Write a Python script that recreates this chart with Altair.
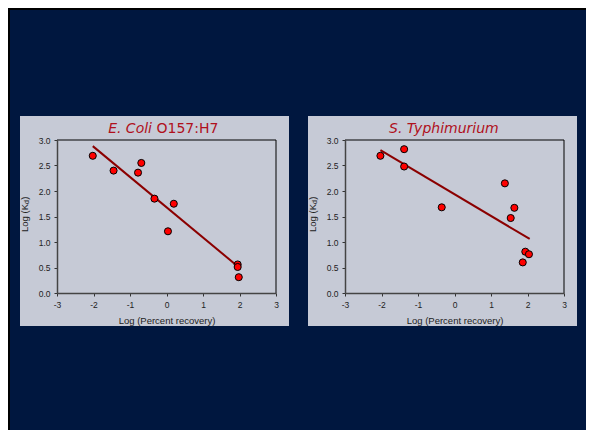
import altair as alt
import pandas as pd

# ---- data ----
ecoli_x = [-2.02, -1.45, -0.78, -0.69, -0.33, 0.20, 0.04, 1.95, 1.95, 1.98]
ecoli_y = [2.69, 2.40, 2.36, 2.55, 1.85, 1.75, 1.21, 0.56, 0.51, 0.31]
ecoli_fit_x = [-2.02, 1.94]
ecoli_fit_y = [2.88, 0.53]

typh_x = [-2.03, -1.38, -1.38, -0.35, 1.38, 1.64, 1.54, 1.94, 2.04, 1.87]
typh_y = [2.69, 2.82, 2.48, 1.68, 2.15, 1.67, 1.47, 0.81, 0.76, 0.60]
typh_fit_x = [-2.03, 2.06]
typh_fit_y = [2.80, 1.06]

x_ticks = [-3, -2, -1, 0, 1, 2, 3]
y_ticks = [0.0, 0.5, 1.0, 1.5, 2.0, 2.5, 3.0]

# ---- style ----
NAVY = "#00173f"
LIGHT = "#c6cad6"
RED_TITLE = "#b0101c"
LINE = "#8b0000"
W, H = 219, 153
AX_FONT = "Liberation Sans"
T_FONT = "DejaVu Sans"

one = pd.DataFrame({"k": [0]})


def panel(px, py, fx, fy, titles, frame=False):
    pts = pd.DataFrame({"x": px, "y": py})
    fit = pd.DataFrame({"x": fx, "y": fy})
    xs = alt.Scale(domain=[-3, 3], nice=False, zero=False)
    ys = alt.Scale(domain=[0, 3], nice=False, zero=False)
    xa = alt.Axis(values=x_ticks, labelExpr="'' + datum.value",
                  title="Log (Percent recovery)", zindex=1, labelOverlap=False,
                  labelFlush=False,
                  titleY=30.5, titleBaseline="alphabetic",
                  labelBaseline="alphabetic", labelPadding=11.5)
    ya = alt.Axis(values=y_ticks, format=".1f", title=None, zindex=1,
                  labelOverlap=False, labelFlush=False)
    X = alt.X("x:Q", scale=xs, axis=xa)
    Y = alt.Y("y:Q", scale=ys, axis=ya)

    layers = []
    if frame:
        # slide backdrop with a thin black edge at top and left
        layers.append(alt.Chart(one).mark_rect(color=NAVY).encode(
            x=alt.value(-49), x2=alt.value(529), y=alt.value(-132), y2=alt.value(290)))
        layers.append(alt.Chart(one).mark_rect(color="#000000").encode(
            x=alt.value(-49), x2=alt.value(529), y=alt.value(-132), y2=alt.value(-130)))
        layers.append(alt.Chart(one).mark_rect(color="#000000").encode(
            x=alt.value(-49), x2=alt.value(-47), y=alt.value(-132), y2=alt.value(290)))
    layers.append(alt.Chart(one).mark_rect(color=LIGHT).encode(
        x=alt.value(-37), x2=alt.value(W + 13), y=alt.value(-24), y2=alt.value(H + 33)))
    layers.append(alt.Chart(one).mark_rule(color="#000000", strokeWidth=1).encode(
        x=alt.value(0), x2=alt.value(W), y=alt.value(0)))
    layers.append(alt.Chart(one).mark_rule(color="#000000", strokeWidth=1).encode(
        x=alt.value(W), y=alt.value(0), y2=alt.value(H)))
    layers.append(alt.Chart(fit).mark_line(color=LINE, strokeWidth=2).encode(x=X, y=Y))
    layers.append(alt.Chart(pts).mark_point(
        filled=True, fill="#ff0000", stroke="#000000", strokeWidth=1,
        size=50, opacity=1, shape="circle").encode(x=X, y=Y))
    # y-axis title "Log (Kd)" with subscript
    for txt, size, dx, dy in [("Log (K", 9.5, 0, 0), ("d", 7, 28.0, 2.5), (")", 9.5, 32.2, 0)]:
        layers.append(alt.Chart(one).mark_text(
            text=txt, font=AX_FONT, fontSize=size, color="#222222", angle=270,
            align="left", baseline="middle", dx=dx, dy=dy).encode(
            x=alt.value(-32.5), y=alt.value(92)))
    for txt, xpos, align, italic in titles:
        layers.append(alt.Chart(one).mark_text(
            text=txt, font=T_FONT, fontSize=14, color=RED_TITLE,
            fontStyle="italic" if italic else "normal",
            align=align, baseline="alphabetic").encode(
            x=alt.value(xpos), y=alt.value(-7)))
    return alt.layer(*layers).properties(width=W, height=H)


p1 = panel(ecoli_x, ecoli_y, ecoli_fit_x, ecoli_fit_y,
           [("E. Coli", 95, "right", True), ("O157:H7", 99.5, "left", False)],
           frame=True)
p2 = panel(typh_x, typh_y, typh_fit_x, typh_fit_y,
           [("S. Typhimurium", 44, "left", True)])

chart = alt.hconcat(p1, p2, spacing=69, bounds="flush").properties(
    padding=0, background=NAVY
).configure_view(stroke=None, fill=None).configure_axis(
    labelFont=AX_FONT, labelFontSize=8.5, labelColor="#222222",
    titleFont=AX_FONT, titleFontSize=9.5, titleFontWeight="normal", titleColor="#222222",
    tickColor="#333333", tickSize=3, tickWidth=1,
    domainColor="#444444", domainWidth=1.5, grid=False, labelPadding=4
)

chart.save("out.html", embed_options={"renderer": "svg", "actions": False})
